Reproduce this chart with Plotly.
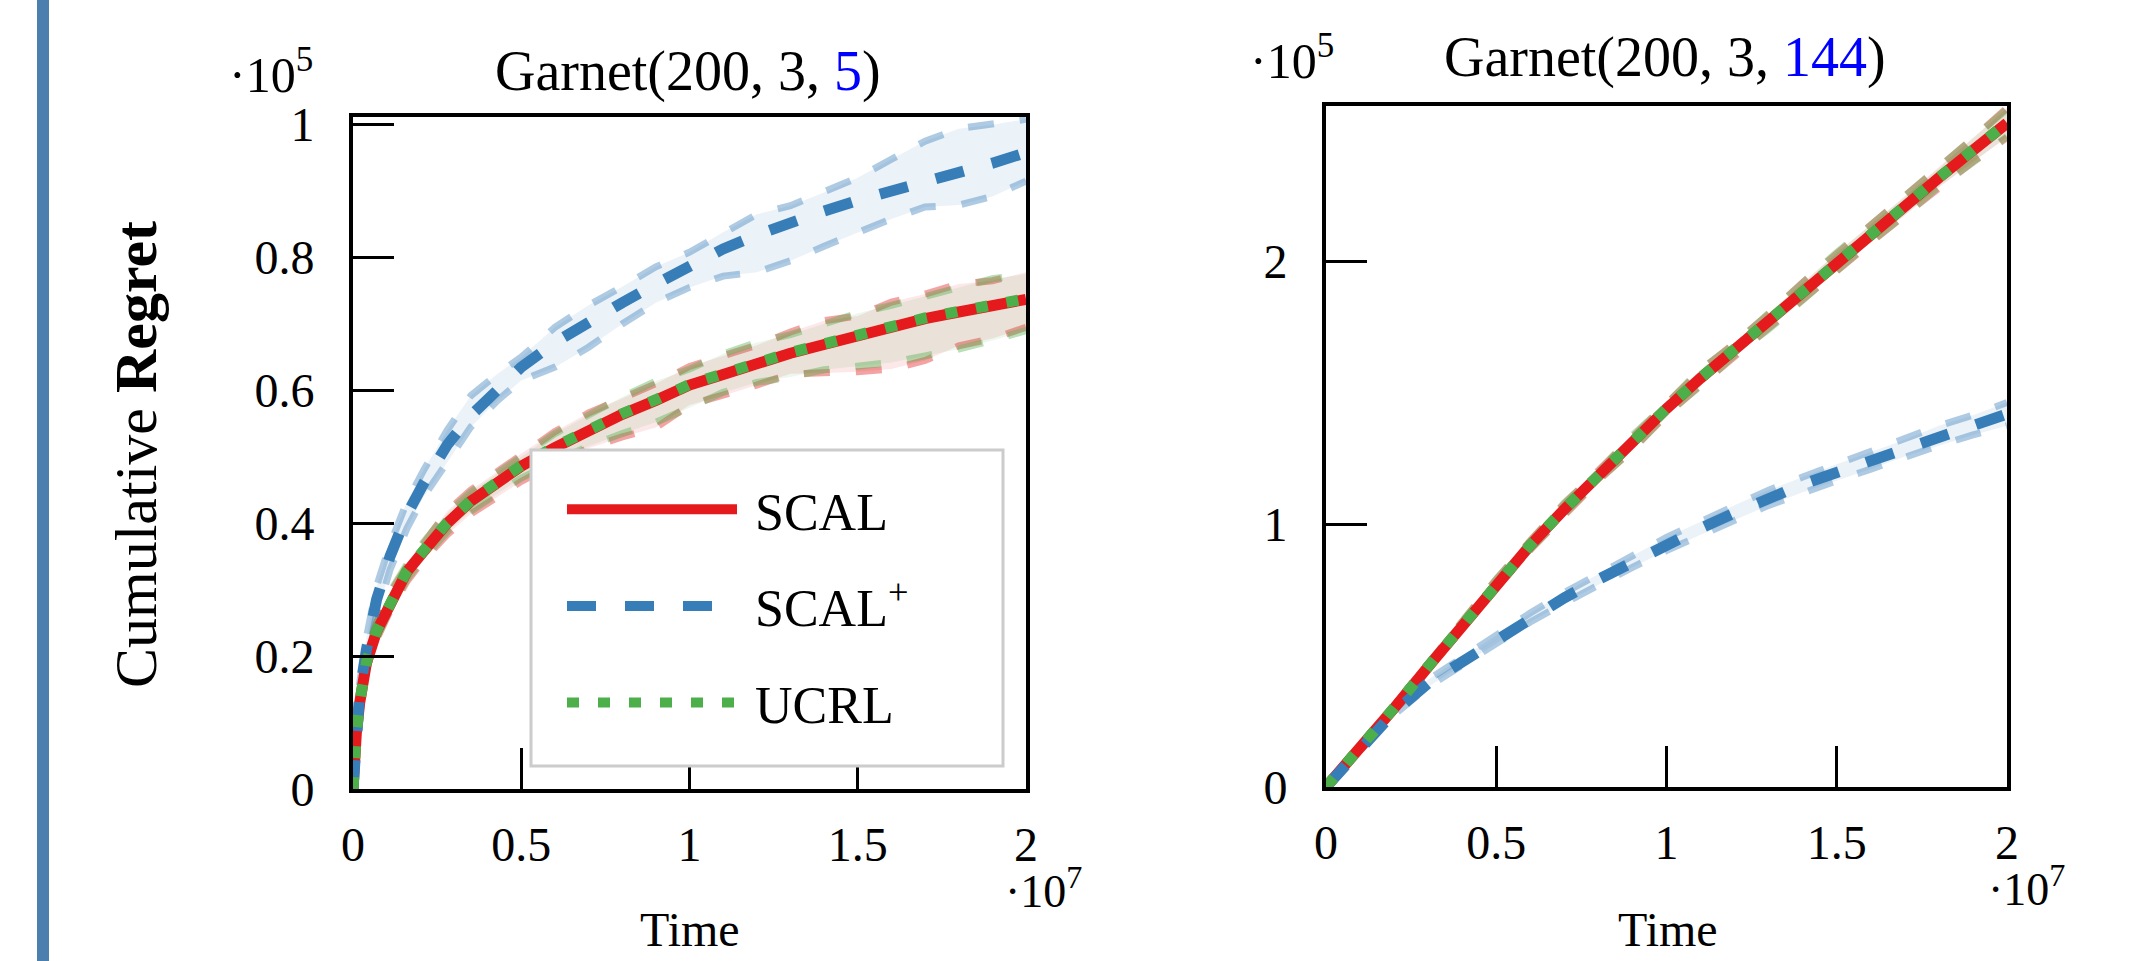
import plotly.graph_objects as go

# ---------------- data (time in 1e7 units, regret in 1e5 units) ----------------
t_left = [0, 0.005, 0.01, 0.02, 0.04, 0.07, 0.11, 0.16, 0.21, 0.28, 0.35, 0.43, 0.5,
          0.6, 0.7, 0.8, 0.9, 1.0, 1.1, 1.2, 1.3, 1.4, 1.5, 1.6, 1.7, 1.8, 1.9, 2.0]

scal_l = [0, 0.06, 0.085, 0.13, 0.19, 0.237, 0.281, 0.327, 0.358, 0.400, 0.433, 0.462, 0.486,
          0.514, 0.541, 0.564, 0.585, 0.608, 0.624, 0.641, 0.656, 0.669, 0.683, 0.694, 0.708, 0.718, 0.727, 0.737]
scal_l_up = [0, 0.065, 0.09, 0.14, 0.20, 0.25, 0.295, 0.335, 0.37, 0.418, 0.45, 0.478, 0.505,
             0.538, 0.566, 0.588, 0.61, 0.636, 0.652, 0.668, 0.688, 0.705, 0.712, 0.733, 0.745, 0.76, 0.765, 0.778]
scal_l_lo = [0, 0.05, 0.078, 0.12, 0.18, 0.225, 0.268, 0.312, 0.345, 0.383, 0.414, 0.44, 0.463,
             0.49, 0.513, 0.53, 0.544, 0.578, 0.592, 0.608, 0.625, 0.626, 0.628, 0.632, 0.645, 0.667, 0.678, 0.695]

ucrl_l = [0, 0.061, 0.086, 0.131, 0.191, 0.238, 0.282, 0.328, 0.359, 0.401, 0.434, 0.463, 0.487,
          0.515, 0.542, 0.565, 0.586, 0.609, 0.625, 0.642, 0.657, 0.670, 0.684, 0.695, 0.709, 0.719, 0.728, 0.738]
ucrl_l_up = [0, 0.066, 0.092, 0.142, 0.203, 0.252, 0.297, 0.338, 0.372, 0.415, 0.447, 0.476, 0.50,
             0.535, 0.563, 0.59, 0.614, 0.632, 0.655, 0.672, 0.684, 0.70, 0.716, 0.728, 0.742, 0.755, 0.768, 0.775]
ucrl_l_lo = [0, 0.051, 0.079, 0.121, 0.181, 0.226, 0.27, 0.315, 0.348, 0.387, 0.418, 0.445, 0.468,
             0.493, 0.516, 0.535, 0.552, 0.574, 0.597, 0.612, 0.62, 0.631, 0.636, 0.642, 0.652, 0.662, 0.675, 0.69]

scalp_l = [0, 0.054, 0.09, 0.145, 0.21, 0.285, 0.35, 0.413, 0.46, 0.518, 0.562, 0.603, 0.635,
           0.672, 0.703, 0.732, 0.760, 0.787, 0.813, 0.834, 0.853, 0.870, 0.886, 0.899, 0.912, 0.926, 0.942, 0.958]
scalp_l_up = [0, 0.06, 0.1, 0.16, 0.228, 0.305, 0.368, 0.432, 0.48, 0.54, 0.592, 0.625, 0.65,
              0.695, 0.728, 0.756, 0.786, 0.808, 0.838, 0.865, 0.878, 0.898, 0.92, 0.948, 0.975, 0.994, 1.0, 1.008]
scalp_l_lo = [0, 0.048, 0.08, 0.13, 0.192, 0.262, 0.33, 0.392, 0.44, 0.492, 0.545, 0.585, 0.615,
              0.635, 0.665, 0.70, 0.732, 0.755, 0.772, 0.778, 0.795, 0.817, 0.838, 0.858, 0.876, 0.879, 0.892, 0.915]

t_right = [0, 0.1, 0.2, 0.3, 0.4, 0.5, 0.6, 0.7, 0.8, 0.9, 1.0,
           1.1, 1.2, 1.3, 1.4, 1.5, 1.6, 1.7, 1.8, 1.9, 2.0]

scal_r = [0, 0.145, 0.30, 0.458, 0.617, 0.775, 0.92, 1.057, 1.186, 1.308, 1.44,
          1.556, 1.666, 1.772, 1.884, 1.998, 2.107, 2.212, 2.319, 2.423, 2.527]
scal_r_up = [0, 0.15, 0.308, 0.468, 0.63, 0.79, 0.938, 1.078, 1.205, 1.333, 1.462,
             1.585, 1.69, 1.80, 1.92, 2.03, 2.142, 2.246, 2.36, 2.468, 2.585]
scal_r_lo = [0, 0.14, 0.292, 0.449, 0.605, 0.76, 0.903, 1.037, 1.166, 1.285, 1.416,
             1.53, 1.64, 1.745, 1.852, 1.966, 2.072, 2.178, 2.282, 2.38, 2.472]

ucrl_r = [0, 0.146, 0.301, 0.459, 0.618, 0.776, 0.921, 1.058, 1.187, 1.309, 1.441,
          1.557, 1.667, 1.773, 1.885, 1.999, 2.108, 2.213, 2.32, 2.424, 2.528]
ucrl_r_up = [0, 0.151, 0.31, 0.47, 0.628, 0.792, 0.935, 1.082, 1.2, 1.338, 1.458,
             1.59, 1.686, 1.805, 1.915, 2.035, 2.138, 2.25, 2.355, 2.472, 2.58]
ucrl_r_lo = [0, 0.141, 0.293, 0.45, 0.607, 0.762, 0.905, 1.035, 1.17, 1.282, 1.42,
             1.527, 1.644, 1.742, 1.856, 1.962, 2.076, 2.175, 2.286, 2.377, 2.476]

scalp_r = [0, 0.143, 0.285, 0.395, 0.478, 0.562, 0.645, 0.72, 0.79, 0.858, 0.925,
           0.985, 1.043, 1.102, 1.152, 1.197, 1.243, 1.29, 1.338, 1.378, 1.42]
scalp_r_up = [0, 0.148, 0.295, 0.408, 0.493, 0.578, 0.662, 0.74, 0.81, 0.88, 0.95,
              1.01, 1.072, 1.13, 1.18, 1.228, 1.275, 1.322, 1.375, 1.415, 1.463]
scalp_r_lo = [0, 0.138, 0.275, 0.382, 0.463, 0.546, 0.628, 0.70, 0.77, 0.836, 0.9,
              0.96, 1.015, 1.072, 1.122, 1.166, 1.21, 1.258, 1.3, 1.34, 1.375]

x_ticks = [0, 0.5, 1, 1.5, 2]
x_tick_text = ["0", "0.5", "1", "1.5", "2"]
yl_ticks = [0, 0.2, 0.4, 0.6, 0.8, 1]
yl_tick_text = ["0", "0.2", "0.4", "0.6", "0.8", "1"]
yr_ticks = [0, 1, 2]
yr_tick_text = ["0", "1", "2"]

series_names = ["SCAL", "SCAL<sup>+</sup>", "UCRL"]

# ---------------- style ----------------
FONT = "Liberation Serif"
RED = "#e41a1c"
BLUE = "#377eb8"
GREEN = "#4daf4a"
W, H = 2130, 961


def band(fig, t, lo, up, color_rgb, xa, ya, group):
    r, g, b = color_rgb
    common = dict(showlegend=False, hoverinfo="skip", xaxis=xa, yaxis=ya, legendgroup=group)
    fig.add_trace(go.Scatter(x=t, y=lo, mode="lines", line=dict(width=0), **common))
    fig.add_trace(go.Scatter(x=t, y=up, mode="lines", line=dict(width=0), fill="tonexty",
                             fillcolor=f"rgba({r},{g},{b},0.1)", **common))
    for arr in (lo, up):
        fig.add_trace(go.Scatter(x=t, y=arr, mode="lines",
                                 line=dict(color=f"rgba({r},{g},{b},0.4)", width=7, dash="26px,26px"),
                                 **common))


fig = go.Figure()

panels = [
    ("x", "y", t_left, (scal_l, scal_l_lo, scal_l_up), (scalp_l, scalp_l_lo, scalp_l_up),
     (ucrl_l, ucrl_l_lo, ucrl_l_up), True),
    ("x2", "y2", t_right, (scal_r, scal_r_lo, scal_r_up), (scalp_r, scalp_r_lo, scalp_r_up),
     (ucrl_r, ucrl_r_lo, ucrl_r_up), False),
]

NB = "\u00a0"
for xa, ya, t, scal, scalp, ucrl, legend in panels:
    band(fig, t, scalp[1], scalp[2], (55, 126, 184), xa, ya, "b")
    band(fig, t, scal[1], scal[2], (228, 26, 28), xa, ya, "a")
    band(fig, t, ucrl[1], ucrl[2], (77, 175, 74), xa, ya, "c")
    fig.add_trace(go.Scatter(x=t, y=scal[0], mode="lines", name=NB + series_names[0], legendgroup="a",
                             legendrank=1, line=dict(color=RED, width=11), showlegend=legend,
                             xaxis=xa, yaxis=ya))
    fig.add_trace(go.Scatter(x=t, y=scalp[0], mode="lines", name=NB + series_names[1], legendgroup="b",
                             legendrank=2, line=dict(color=BLUE, width=11, dash="29px,29px"),
                             showlegend=legend, xaxis=xa, yaxis=ya))
    fig.add_trace(go.Scatter(x=t, y=ucrl[0], mode="lines", name=NB + series_names[2], legendgroup="c",
                             legendrank=3, line=dict(color=GREEN, width=11, dash="12px,19px"),
                             showlegend=legend, xaxis=xa, yaxis=ya))

axis_common = dict(showline=True, mirror=True, linecolor="black", linewidth=4,
                   ticks="inside", ticklen=41, tickwidth=2.5, tickcolor="black",
                   showgrid=False, zeroline=False, automargin=False,
                   tickfont=dict(family=FONT, size=48, color="black"))

fig.update_layout(
    template="none",
    width=W, height=H,
    margin=dict(l=0, r=0, t=0, b=0, pad=0, autoexpand=False),
    paper_bgcolor="white", plot_bgcolor="white",
    font=dict(family=FONT, color="black"),
    xaxis=dict(domain=[353 / W, 1026 / W], range=[0, 2], anchor="y",
               tickvals=x_ticks, ticktext=x_tick_text, ticklabelstandoff=10, **axis_common),
    yaxis=dict(domain=[(H - 789) / H, (H - 117) / H], range=[0, 1.0115], anchor="x",
               tickvals=yl_ticks, ticktext=yl_tick_text, ticklabelstandoff=25, **axis_common),
    xaxis2=dict(domain=[1326 / W, 2007 / W], range=[0, 2], anchor="y2",
                tickvals=x_ticks, ticktext=x_tick_text, ticklabelstandoff=10, **axis_common),
    yaxis2=dict(domain=[(H - 787) / H, (H - 106) / H], range=[0, 2.592], anchor="x2",
                tickvals=yr_ticks, ticktext=yr_tick_text, ticklabelstandoff=25, **axis_common),
    legend=dict(x=562 / W, y=1 - 469 / H, xanchor="left", yanchor="top",
                bgcolor="rgba(0,0,0,0)", borderwidth=0,
                font=dict(family=FONT, size=52, color="black"),
                itemwidth=170, tracegroupgap=26, traceorder="grouped"),
    showlegend=True,
)

# left decorative bar
fig.add_shape(type="rect", xref="paper", yref="paper", x0=37 / W, x1=49 / W, y0=0, y1=1,
              fillcolor="#4b7fad", line=dict(width=0), layer="below")
# legend frame (white box with light grey border)
fig.add_shape(type="rect", xref="paper", yref="paper", x0=531 / W, x1=1003 / W,
              y0=1 - 766 / H, y1=1 - 450 / H,
              fillcolor="white", line=dict(color="#cccccc", width=3), layer="above")


def ann(text, x, y, size, angle=0):
    fig.add_annotation(text=text, x=x / W, y=1 - y / H, xref="paper", yref="paper",
                       xanchor="center", yanchor="middle", showarrow=False, textangle=angle,
                       font=dict(family=FONT, size=size, color="black"))


ann("Garnet(200, 3, <span style='color:#0000ff'>5</span>)", 688, 72, 56)
ann("·10<sup>5</sup>", 271, 72, 50)
ann("Garnet(200, 3, <span style='color:#0000ff'>144</span>)", 1665, 58, 56)
ann("·10<sup>5</sup>", 1292, 58, 50)
ann("·10<sup>7</sup>", 1043, 888, 46)
ann("·10<sup>7</sup>", 2026, 886, 46)
ann("Time", 690, 929, 48)
ann("Time", 1668, 929, 48)
ann("Cumulative <b>Regret</b>", 136, 455, 60, angle=-90)

fig.write_html("out.html", config={"displayModeBar": False},
               post_script="document.body.style.margin='0';")
